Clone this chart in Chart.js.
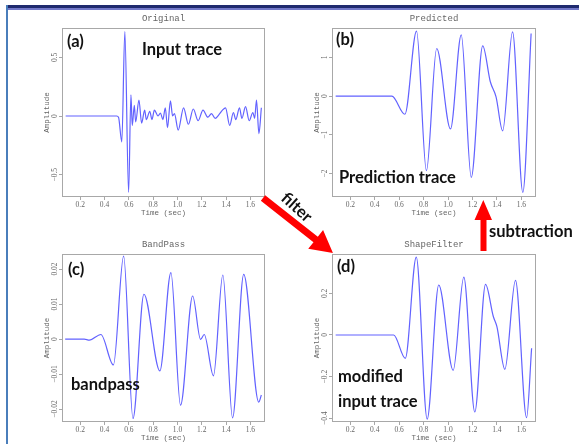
<!DOCTYPE html>
<html>
<head>
<meta charset="utf-8">
<script src="https://cdn.jsdelivr.net/npm/chart.js@4.4.0/dist/chart.umd.min.js"></script>
<style>
  body { margin: 0; width: 579px; height: 444px; background: #fff; position: relative; overflow: hidden; }
  canvas { position: absolute; }
  #overlay { position: absolute; left: 0; top: 0; }
  .note { font-family: Lato, sans-serif; font-weight: 700; font-size: 16.5px; fill: #111; }
</style>
</head>
<body>
<div style="position:absolute;left:6px;top:5px;width:573px;height:3px;background:#1f2a6e"></div>
<div style="position:absolute;left:6px;top:8px;width:573px;height:2px;background:#7278c8"></div>
<div style="position:absolute;left:6px;top:5px;width:2px;height:439px;background:#4a7ebb"></div>

<canvas id="chartA"></canvas>
<canvas id="chartB"></canvas>
<canvas id="chartC"></canvas>
<canvas id="chartD"></canvas>

<svg id="overlay" width="579" height="444">
  <text class="note" x="67" y="47">(a)</text>
  <text class="note" x="142" y="55">Input trace</text>
  <text class="note" x="336" y="45">(b)</text>
  <text class="note" x="339" y="183">Prediction trace</text>
  <text class="note" x="68" y="275">(c)</text>
  <text class="note" x="71" y="390">bandpass</text>
  <text class="note" x="337" y="272">(d)</text>
  <text class="note" x="338" y="382">modified</text>
  <text class="note" x="338" y="407">input trace</text>
  <text class="note" x="489" y="237">subtraction</text>
  <text class="note" transform="translate(297,207) rotate(42)" text-anchor="middle" dy="0.35em">filter</text>
  <g transform="translate(263,198) rotate(38.2)">
    <polygon points="0,-3.5 67,-3.5 67,-12 89,0 67,12 67,3.5 0,3.5" fill="#ff0000"/>
  </g>
  <polygon points="480.5,251 486.5,251 486.5,220 492,220 483.3,200 474.5,220 480.5,220" fill="#ff0000"/>
</svg>

<script>
// (a) Original
const timeA = [0.08, 0.50, 0.515, 0.542, 0.567, 0.598, 0.617, 0.628, 0.645, 0.656, 0.683, 0.705, 0.73, 0.744,
  0.772, 0.79, 0.81, 0.84, 0.86, 0.88, 0.90, 0.918, 0.942, 0.96, 0.975, 1.006, 1.05, 1.09, 1.13, 1.17, 1.21,
  1.25, 1.28, 1.31, 1.34, 1.37, 1.395, 1.43, 1.46, 1.48, 1.51, 1.53, 1.56, 1.59, 1.62, 1.635, 1.65, 1.67, 1.69];
const ampA = [0, 0, -0.01, -0.22, 0.72, -0.65, 0.18, -0.08, 0.09, -0.05, 0.135, -0.06, 0.05, -0.03,
  0.04, -0.03, 0.05, 0, 0.025, -0.03, 0.07, -0.10, 0.13, 0.0, 0.02, -0.12, 0.07, -0.07, 0.06, -0.04, 0.05,
  -0.01, 0.02, -0.02, 0.01, 0.05, 0.07, -0.08, 0.03, -0.03, 0.07, -0.02, 0.08, -0.04, 0.03, -0.02, 0.135, -0.15, 0.07];

// (b) Predicted
const timeB = [0.08, 0.54, 0.647, 0.742, 0.823, 0.907, 1.02, 1.108, 1.19, 1.284, 1.346, 1.393, 1.447, 1.528, 1.612, 1.68];
const ampB = [0, 0, -0.47, 1.68, -1.93, 1.23, -0.85, 1.58, -2.1, 1.30, 0.37, -0.02, -0.90, 1.66, -2.49, 1.62];

// (c) BandPass
const timeC = [0.076, 0.233, 0.275, 0.37, 0.473, 0.557, 0.634, 0.724, 0.855, 0.946, 1.025, 1.125, 1.19, 1.22,
  1.296, 1.373, 1.453, 1.545, 1.669, 1.69];
const ampC = [0, 0, -0.0003, 0.0013, -0.0074, 0.0237, -0.0227, 0.0128, -0.0091, 0.019, -0.0189, 0.0123, -0.0001, 0.0013,
  -0.0105, 0.0183, -0.0225, 0.0185, -0.018, -0.016];

// (d) ShapeFilter
const timeD = [0.08, 0.555, 0.65, 0.74, 0.829, 0.924, 1.042, 1.129, 1.219, 1.307, 1.37, 1.40, 1.465, 1.552, 1.643, 1.684];
const ampD = [0, 0, -0.112, 0.374, -0.404, 0.24, -0.17, 0.278, -0.37, 0.243, 0.09, 0.04, -0.165, 0.262, -0.397, -0.064];

const xTicks = [0.2, 0.4, 0.6, 0.8, 1, 1.2, 1.4, 1.6];
const yTicksA = [-0.5, 0, 0.5];
const yTicksB = [-2, -1, 0, 1];
const yTicksC = [-0.02, -0.01, 0, 0.01, 0.02];
const yTicksD = [-0.4, -0.2, 0, 0.2];

const tickFont = { family: 'Liberation Serif', size: 7.5 };
const axisFont = { family: 'Liberation Mono', size: 7.5 };
const gray = '#666';

// plot box + rotated y tick labels
const frameLabels = {
  id: 'frameLabels',
  beforeDatasetsDraw(chart) {
    const a = chart.chartArea, ctx = chart.ctx;
    ctx.save();
    ctx.strokeStyle = '#a8a8a8';
    ctx.lineWidth = 1;
    ctx.strokeRect(a.left + 0.5, a.top + 0.5, a.right - a.left - 1, a.bottom - a.top - 1);
    ctx.restore();
  },
  afterDraw(chart) {
    const a = chart.chartArea, ctx = chart.ctx, s = chart.scales.y;
    ctx.save();
    ctx.font = tickFont.size + 'px "' + tickFont.family + '"';
    ctx.fillStyle = gray;
    ctx.textAlign = 'center';
    ctx.textBaseline = 'middle';
    s.ticks.forEach(t => {
      const py = s.getPixelForValue(t.value);
      ctx.save();
      ctx.translate(a.left - 7, py);
      ctx.rotate(-Math.PI / 2);
      ctx.fillText(String(t.value).replace('-', '\u2212'), 0, 0);
      ctx.restore();
    });
    ctx.restore();
  }
};

function makePanel(id, area, title, times, amps, yTicks, yMin, yMax) {
  const yW = 26, padR = 6, titleH = 17, xH = 24;
  const el = document.getElementById(id);
  el.width = area.r - area.l + yW + padR;
  el.height = area.b - area.t + titleH + xH;
  el.style.left = (area.l - yW) + 'px';
  el.style.top = (area.t - titleH) + 'px';

  return new Chart(el, {
    type: 'line',
    data: {
      datasets: [{
        data: times.map((t, i) => ({ x: t, y: amps[i] })),
        borderColor: '#6262ff',
        borderWidth: 1.2,
        pointRadius: 0,
        cubicInterpolationMode: 'monotone',
        fill: false
      }]
    },
    options: {
      responsive: false,
      animation: false,
      devicePixelRatio: 1,
      layout: { padding: { right: padR } },
      plugins: {
        legend: { display: false },
        tooltip: { enabled: false },
        title: {
          display: true,
          text: title,
          fullSize: false,
          color: gray,
          font: { family: 'Liberation Mono', size: 9, weight: 'normal', lineHeight: 1.2 },
          padding: { top: 2.2, bottom: 4 }
        }
      },
      scales: {
        x: {
          type: 'linear',
          min: 0.05,
          max: 1.72,
          afterBuildTicks: s => { s.ticks = xTicks.map(v => ({ value: v })); },
          afterFit: s => { s.height = xH; },
          ticks: { color: gray, font: tickFont, padding: 1, maxRotation: 0 },
          grid: { display: true, drawOnChartArea: false, drawTicks: true, tickLength: 3, color: '#a8a8a8' },
          border: { display: false },
          title: { display: true, text: 'Time (sec)', color: gray, font: axisFont, padding: { top: 0, bottom: 3.5 } }
        },
        y: {
          min: yMin,
          max: yMax,
          afterBuildTicks: s => { s.ticks = yTicks.map(v => ({ value: v })); },
          afterFit: s => { s.width = yW; },
          ticks: { display: false },
          grid: { display: true, drawOnChartArea: false, drawTicks: true, tickLength: 3, color: '#a8a8a8' },
          border: { display: false },
          title: { display: true, text: 'Amplitude', color: gray, font: axisFont, padding: { top: 6.5, bottom: 0 } }
        }
      }
    },
    plugins: [frameLabels]
  });
}

makePanel('chartA', { l: 62, t: 28, r: 265, b: 197 }, 'Original', timeA, ampA, yTicksA, -0.69, 0.75);
makePanel('chartB', { l: 332, t: 28, r: 536, b: 197 }, 'Predicted', timeB, ampB, yTicksB, -2.61, 1.76);
makePanel('chartC', { l: 62, t: 254, r: 265, b: 422 }, 'BandPass', timeC, ampC, yTicksC, -0.0237, 0.0243);
makePanel('chartD', { l: 332, t: 254, r: 536, b: 422 }, 'ShapeFilter', timeD, ampD, yTicksD, -0.418, 0.389);
</script>
</body>
</html>
